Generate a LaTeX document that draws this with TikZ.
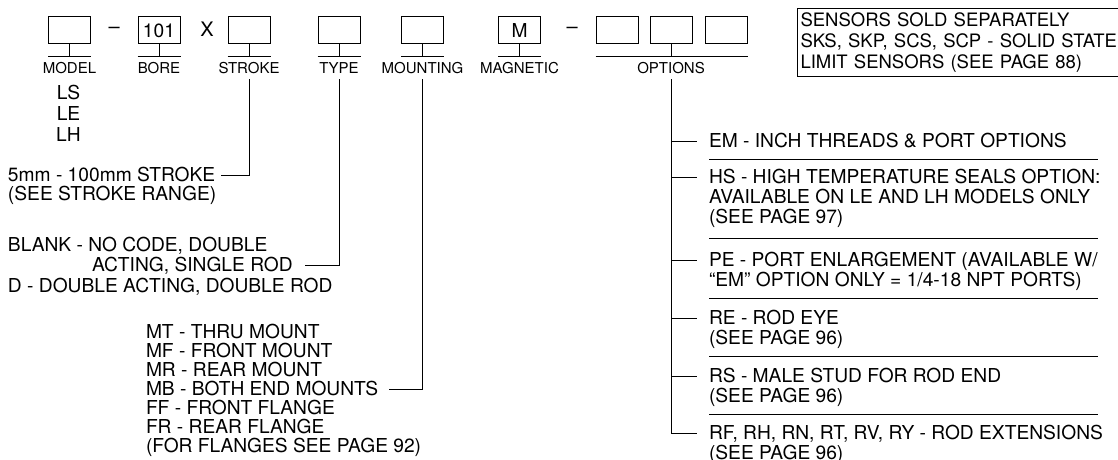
\documentclass[tikz,border=0pt]{standalone}
\usepackage{fontspec}
\setmainfont{TeX Gyre Heros}
\usetikzlibrary{positioning,calc}

\newcommand{\descfont}{\fontsize{19.2}{19}\selectfont}
\newcommand{\lblfont}{\fontsize{15}{16}\selectfont}

\begin{document}
\begin{tikzpicture}[
    x=1pt, y=-1pt,
    line width=1pt,
    codebox/.style={draw, minimum width=42pt, minimum height=27pt, inner sep=0pt, font=\descfont},
    lbl/.style={font=\lblfont, inner sep=0pt, text height=10.7pt, text depth=0pt, outer sep=5.5pt},
    txt/.style={font=\descfont, inner sep=0pt, outer sep=0pt, text height=16.1pt, text depth=2.9pt},
    sym/.style={font=\fontsize{20}{20}\selectfont, inner sep=0pt}
]
\useasboundingbox (0,0) rectangle (1118,460);

% Code boxes
\node[codebox] (model) at (69.5,30.5) {};
\node[codebox, right=46.5pt of model] (bore) {101};
\node[codebox, right=47pt of bore] (stroke) {};
\node[codebox, right=47pt of stroke] (type) {};
\node[codebox, right=40.5pt of type] (mount) {};
\node[codebox, right=54pt of mount] (magnetic) {M};
\node[codebox, right=54.5pt of magnetic] (opt1) {};
\node[codebox, right=11pt of opt1] (opt2) {};
\node[codebox, right=12.5pt of opt2] (opt3) {};

\node[sym] (dash1) at ($(model.east)!.5!(bore.west)$) {--};
\node[sym] (times) at ($(bore.east)!.5!(stroke.west)+(3,-1)$) {X};
\node[sym] (dash2) at ($(magnetic.east)!.5!(opt1.west)+(4,0)$) {--};

% Stems and underlines
\draw (model.south) -- ++(0,12) ([yshift=-12pt]model.south west) -- ([yshift=-12pt]model.south east);
\draw (bore.south) -- ++(0,12) ([yshift=-12pt]bore.south west) -- ([yshift=-12pt]bore.south east);
\draw (stroke.south) -- ++(0,12) ([yshift=-12pt]stroke.south west) -- ([yshift=-12pt]stroke.south east);
\draw (type.south) -- ++(0,12) ([yshift=-12pt]type.south west) -- ([yshift=-12pt]type.south east);
\draw (mount.south) -- ++(0,12) ([yshift=-12pt]mount.south west) -- ([yshift=-12pt]mount.south east);
\draw (magnetic.south) -- ++(0,12) ([yshift=-12pt]magnetic.south west) -- ([yshift=-12pt]magnetic.south east);
\draw (opt2.south) -- ++(0,12) ([yshift=-12pt]opt1.south west) -- ([yshift=-12pt]opt3.south east);

% Labels
\node[lbl, below=13pt of model] (model-lbl) {MODEL};
\node[lbl, below=13pt of bore] (bore-lbl) {BORE};
\node[lbl, below=13pt of stroke] (stroke-lbl) {STROKE};
\node[lbl, below=13pt of type] (type-lbl) {TYPE};
\node[lbl, below=13pt of mount] (mount-lbl) {MOUNTING};
\node[lbl, below=13pt of magnetic] (magnetic-lbl) {MAGNETIC};
\node[lbl, below=13pt of opt2] (opt-lbl) {OPTIONS};

% Sensors note
\node[draw, font=\fontsize{18.5}{21}\selectfont, align=left, anchor=north west,
      text width=340pt, inner xsep=3pt, inner ysep=4pt] (sensors) at (797,8)
  {SENSORS SOLD SEPARATELY\\SKS, SKP, SCS, SCP - SOLID STATE\\LIMIT SENSORS (SEE PAGE 88)};

% Models
\node[txt] (ls) at (68.5,93) {LS};
\node[txt, below=2pt of ls] (le) {LE};
\node[txt, below=2pt of le] (lh) {LH};

% Stroke
\node[txt, anchor=west] (stroke-txt) at (8,175) {5mm - 100mm STROKE};
\node[txt, below=0pt of stroke-txt.south west, anchor=north west] (stroke-txt2) {(SEE STROKE RANGE)};
\draw (stroke-lbl.south) |- ([xshift=6pt]stroke-txt.east);

% Type
\node[txt, anchor=west] (type-blank) at (8,245) {BLANK - NO CODE, DOUBLE};
\node[txt, anchor=west] (type-single) at (92,265) {ACTING, SINGLE ROD};
\node[txt, anchor=west] (type-dbl) at (8,286) {D - DOUBLE ACTING, DOUBLE ROD};
\draw (type-lbl.south) |- ([xshift=12pt]type-single.east);

% Mounting
\node[txt, anchor=west] (mnt-mt) at (146,332) {MT - THRU MOUNT};
\node[txt, below=0pt of mnt-mt.south west, anchor=north west] (mnt-mf) {MF - FRONT MOUNT};
\node[txt, below=0pt of mnt-mf.south west, anchor=north west] (mnt-mr) {MR - REAR MOUNT};
\node[txt, below=0pt of mnt-mr.south west, anchor=north west] (mnt-mb) {MB - BOTH END MOUNTS};
\node[txt, below=0pt of mnt-mb.south west, anchor=north west] (mnt-ff) {FF - FRONT FLANGE};
\node[txt, below=0pt of mnt-ff.south west, anchor=north west] (mnt-fr) {FR - REAR FLANGE};
\node[txt, below=0pt of mnt-fr.south west, anchor=north west] (mnt-note) {(FOR FLANGES SEE PAGE 92)};
\draw (mount-lbl.south) |- ([xshift=11pt]mnt-mb.east);

% Options
\node[txt, anchor=west] (opt-em) at (709,141) {EM - INCH THREADS \& PORT OPTIONS};
\node[txt, anchor=west] (opt-hs) at (709,177) {HS - HIGH TEMPERATURE SEALS OPTION:};
\node[txt, below=1pt of opt-hs.south west, anchor=north west] (opt-hs2) {AVAILABLE ON LE AND LH MODELS ONLY};
\node[txt, below=1pt of opt-hs2.south west, anchor=north west] (opt-hs3) {(SEE PAGE 97)};
\node[txt, anchor=west] (opt-pe) at (709,260) {PE - PORT ENLARGEMENT (AVAILABLE W/};
\node[txt, below=0.5pt of opt-pe.south west, anchor=north west] (opt-pe2) {“EM” OPTION ONLY = 1/4-18 NPT PORTS)};
\node[txt, anchor=west] (opt-re) at (709,318) {RE - ROD EYE};
\node[txt, below=0.5pt of opt-re.south west, anchor=north west] (opt-re2) {(SEE PAGE 96)};
\node[txt, anchor=west] (opt-rs) at (709,376) {RS - MALE STUD FOR ROD END};
\node[txt, below=0.5pt of opt-rs.south west, anchor=north west] (opt-rs2) {(SEE PAGE 96)};
\node[txt, anchor=west] (opt-rf) at (709,433) {RF, RH, RN, RT, RV, RY - ROD EXTENSIONS};
\node[txt, below=0.5pt of opt-rf.south west, anchor=north west] (opt-rf2) {(SEE PAGE 96)};

\draw (opt-lbl.south) |- ([xshift=-12pt]opt-rf.west);
\foreach \o in {em,hs,pe,re,rs}
  \draw (opt-lbl.south |- opt-\o.west) -- ([xshift=-12pt]opt-\o.west);

% Separators
\draw ($(opt-em.west)!.5!(opt-hs.west)$) -- ++(389,0);
\draw ($(opt-hs3.west)!.5!(opt-pe.west)$) -- ++(389,0);
\draw ($(opt-pe2.west)!.5!(opt-re.west)$) -- ++(389,0);
\draw ($(opt-re2.west)!.5!(opt-rs.west)$) -- ++(389,0);
\draw ($(opt-rs2.west)!.5!(opt-rf.west)$) -- ++(389,0);
\end{tikzpicture}
\end{document}
